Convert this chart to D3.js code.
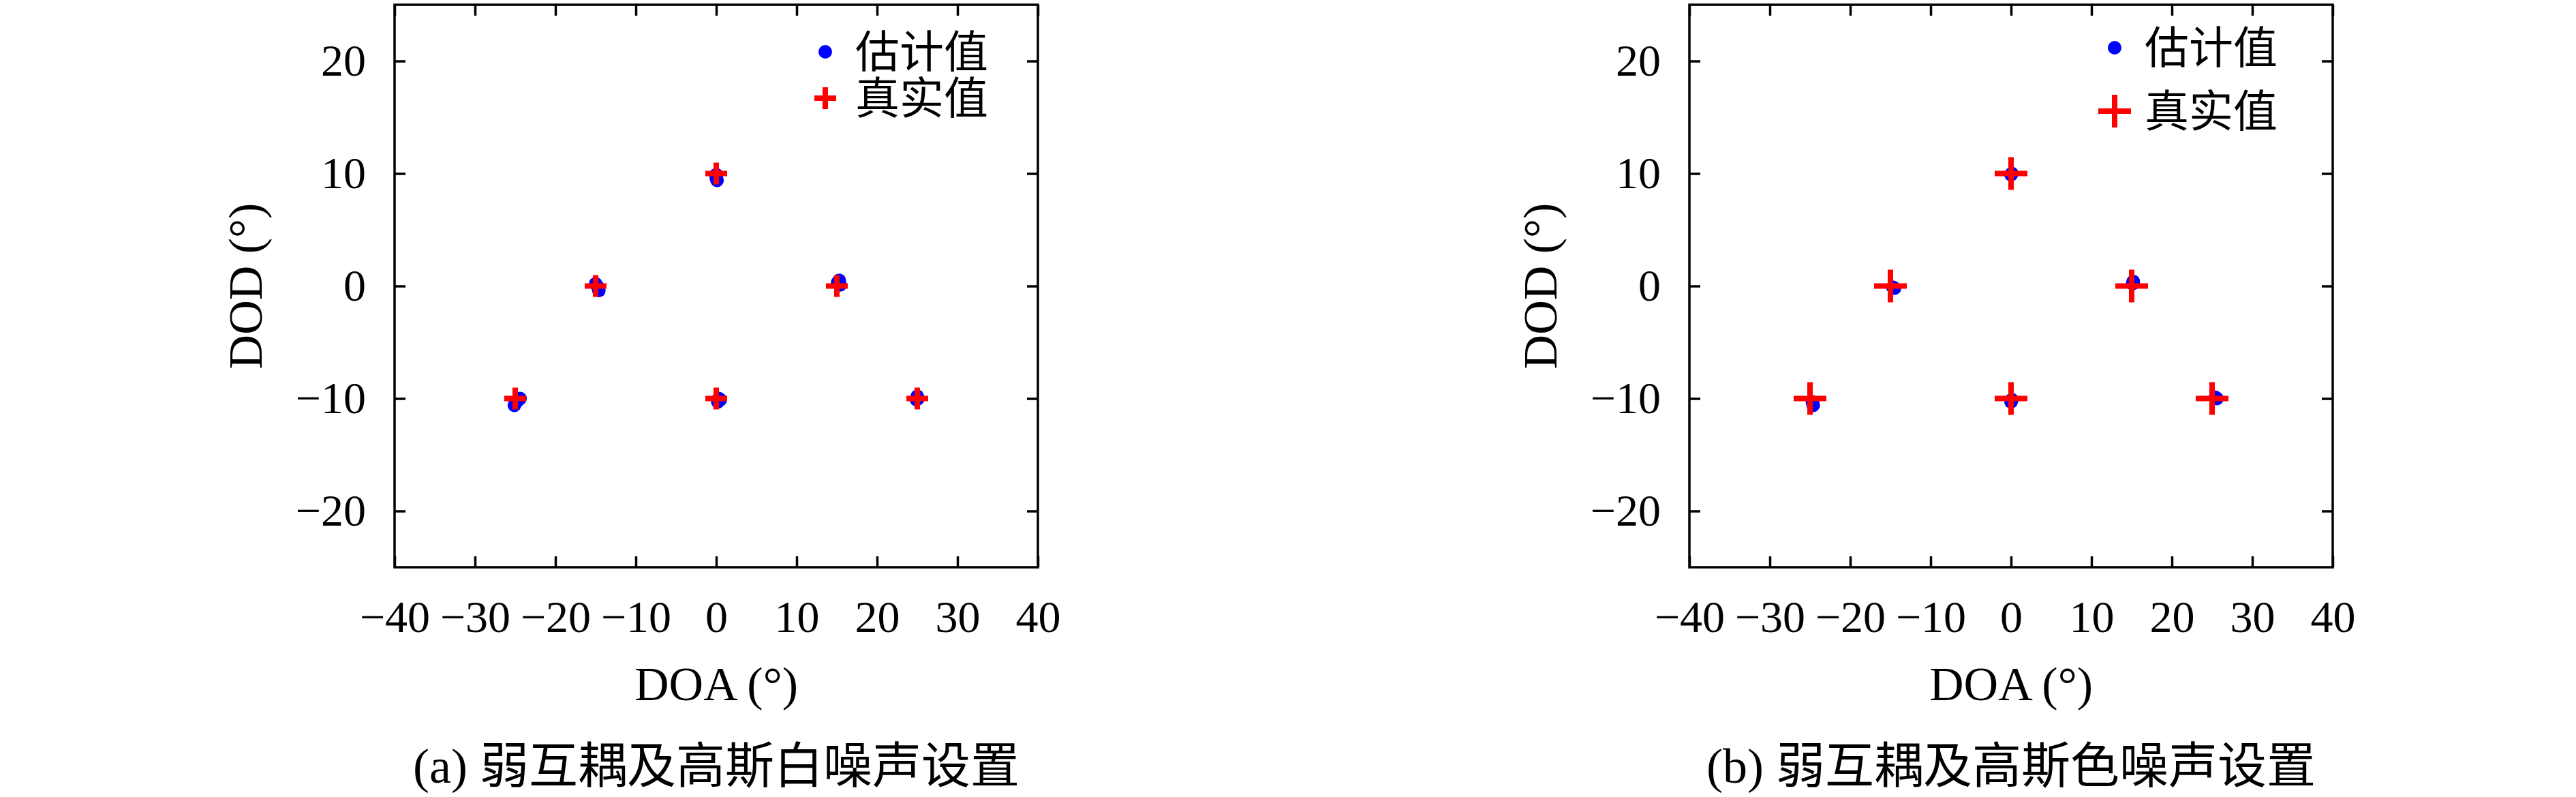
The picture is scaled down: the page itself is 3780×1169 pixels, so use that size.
<!DOCTYPE html>
<html>
<head>
<meta charset="utf-8">
<script src="https://cdn.jsdelivr.net/npm/d3@7"></script>
<style>
  body { margin: 0; background: #fff; }
  text { font-family: "Liberation Serif", "Noto Sans CJK SC", serif; fill: #000; }
</style>
</head>
<body>
<svg id="chart" width="3780" height="1169"></svg>
<script>
// tick values
const doaTicks = [-40, -30, -20, -10, 0, 10, 20, 30, 40]
const dodTicks = [-20, -10, 0, 10, 20]

// true source positions
const trueDOA = [-25, -15, 0, 0, 15, 25]
const trueDOD = [-10, 0, 10, -10, 0, -10]

// estimates, panel (a): weak coupling + white gaussian noise
const estDOA_a = [-24.7, -25.1, -24.4, -14.7, -15.0, -14.6, 0.0, 0.0, 0.1, 0.3, 0.5, 0.2, 15.3, 15.4, 15.1, 25.0, 24.9, 25.1]
const estDOD_a = [-10.2, -10.6, -10.0, -0.1, 0.2, -0.4, 9.9, 9.6, 9.4, -10.0, -10.1, -10.3, 0.5, 0.1, 0.3, -9.8, -10.1, -10.0]

// estimates, panel (b): weak coupling + coloured gaussian noise
const estDOA_b = [-24.6, -24.7, -14.5, -14.7, 0.0, 0.1, 0.0, 0.1, 15.2, 15.1, 25.6, 25.4]
const estDOD_b = [-10.6, -10.3, -0.2, -0.1, 9.9, 10.0, -10.3, -10.1, 0.4, 0.2, -10.0, -9.9]

const legendLabels = ['估计值', '真实值']
const captions = ['(a) 弱互耦及高斯白噪声设置', '(b) 弱互耦及高斯色噪声设置']
const xTitle = 'DOA (°)'
const yTitle = 'DOD (°)'

const svg = d3.select('#chart')
svg.append('rect').attr('width', 3780).attr('height', 1169).attr('fill', '#fff')

const panels = [
    {left: 579, estX: estDOA_a, estY: estDOD_a, caption: captions[0],
     cross: 16, leg1: 76, leg2: 144, legX: 632},
    {left: 2479, estX: estDOA_b, estY: estDOD_b, caption: captions[1],
     cross: 24, leg1: 70, leg2: 163, legX: 624}
]

const plotW = 944, plotTop = 7, plotBottom = 832
const tick = 16
const fontSize = 66

panels.forEach(p => drawPanel(p))

function drawPanel(p) {
    const g = svg.append('g').attr('transform', `translate(${p.left},${plotTop})`)
    const W = plotW
    const H = plotBottom - plotTop

    const x = d3.scaleLinear().domain([-40, 40]).range([0, W])
    const y = d3.scaleLinear().domain([-25, 25]).range([H, 0])

    const styleAxis = sel => {
        sel.select('.domain').remove()
        sel.selectAll('.tick line').attr('stroke', '#000').attr('stroke-width', 3.5)
        sel.selectAll('.tick text')
            .style('font-family', '"Liberation Serif", serif')
            .style('font-size', fontSize + 'px')
            .attr('fill', '#000')
    }
    // mirrored axes: ticks only
    const noLabels = sel => sel.selectAll('.tick text').remove()

    g.append('g').attr('transform', `translate(0,${H})`)
        .call(d3.axisBottom(x).tickValues(doaTicks).tickSize(-tick).tickPadding(48))
        .call(styleAxis)
    g.append('g')
        .call(d3.axisTop(x).tickValues(doaTicks).tickSize(-tick))
        .call(styleAxis).call(noLabels)
    g.append('g')
        .call(d3.axisLeft(y).tickValues(dodTicks).tickSize(-tick).tickPadding(42))
        .call(styleAxis)
    g.append('g').attr('transform', `translate(${W},0)`)
        .call(d3.axisRight(y).tickValues(dodTicks).tickSize(-tick))
        .call(styleAxis).call(noLabels)

    // frame
    g.append('rect')
        .attr('width', W).attr('height', H)
        .attr('fill', 'none').attr('stroke', '#000').attr('stroke-width', 3.5)

    // estimated points
    g.selectAll('.est')
        .data(p.estX.map((v, i) => [v, p.estY[i]]))
        .enter().append('circle')
        .attr('class', 'est')
        .attr('cx', d => x(d[0]))
        .attr('cy', d => y(d[1]))
        .attr('r', 10)
        .attr('fill', '#0000ff')

    // true points
    const h = p.cross
    const crossPath = `M${-h},0H${h}M0,${-h}V${h}`
    g.selectAll('.true')
        .data(trueDOA.map((v, i) => [v, trueDOD[i]]))
        .enter().append('path')
        .attr('class', 'true')
        .attr('transform', d => `translate(${x(d[0])},${y(d[1])})`)
        .attr('d', crossPath)
        .attr('stroke', '#ff0000')
        .attr('stroke-width', 8)
        .attr('fill', 'none')

    // legend
    const leg = g.append('g').attr('transform', `translate(${p.legX},${-plotTop})`)
    leg.append('circle').attr('cx', 0).attr('cy', p.leg1).attr('r', 10).attr('fill', '#0000ff')
    leg.append('path')
        .attr('transform', `translate(0,${p.leg2})`)
        .attr('d', crossPath)
        .attr('stroke', '#ff0000').attr('stroke-width', 8).attr('fill', 'none')
    leg.selectAll('.leg-text')
        .data(legendLabels)
        .enter().append('text')
        .attr('x', 44)
        .attr('y', (d, i) => i === 0 ? p.leg1 : p.leg2)
        .attr('dy', '0.36em')
        .style('font-family', '"Noto Sans CJK SC", sans-serif')
        .style('font-size', '65px')
        .text(d => d)

    // axis titles
    g.append('text')
        .attr('x', W / 2).attr('y', 1027 - plotTop)
        .attr('text-anchor', 'middle')
        .style('font-size', '70px')
        .text(xTitle)
    g.append('text')
        .attr('transform', `translate(${-195},${H / 2}) rotate(-90)`)
        .attr('text-anchor', 'middle')
        .style('font-size', '70px')
        .text(yTitle)

    // caption
    g.append('text')
        .attr('x', W / 2).attr('y', 1148 - plotTop)
        .attr('text-anchor', 'middle')
        .style('font-size', '72px')
        .text(p.caption)
}
</script>
</body>
</html>
